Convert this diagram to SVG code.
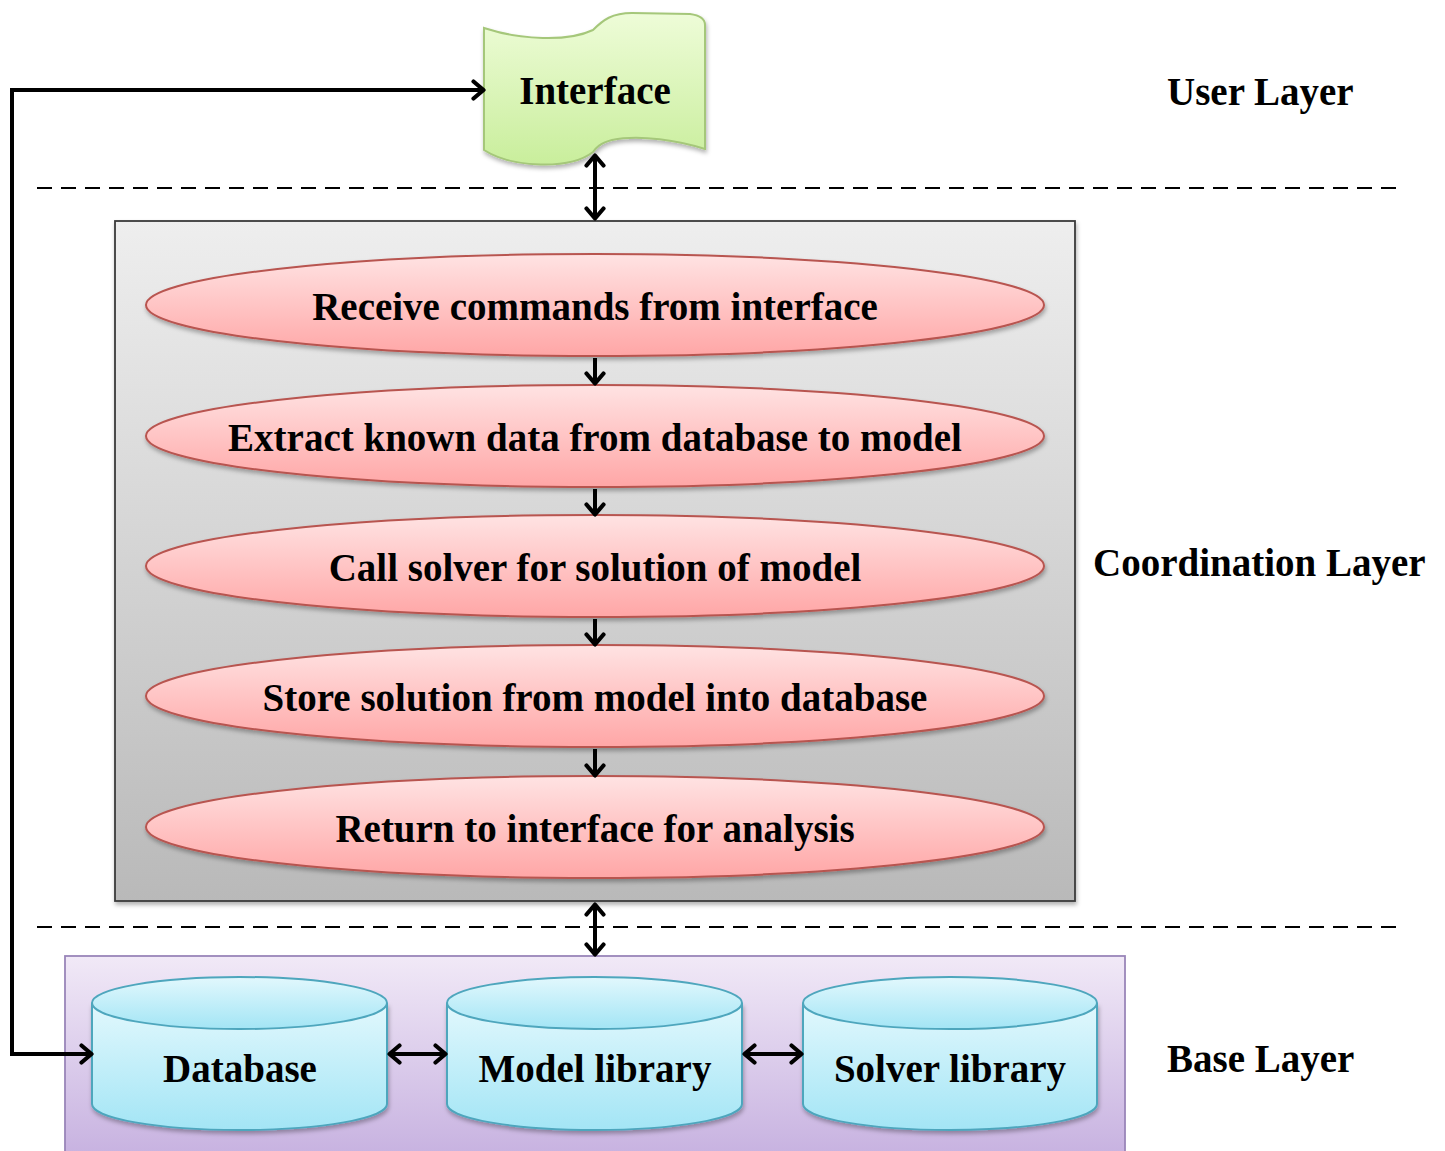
<svg xmlns="http://www.w3.org/2000/svg" width="1445" height="1151" viewBox="0 0 1445 1151">
<defs>
<linearGradient id="gGreen" x1="0" y1="0" x2="0" y2="1"><stop offset="0" stop-color="#eefcd8"/><stop offset="1" stop-color="#c9ee9c"/></linearGradient>
<linearGradient id="gGray" x1="0" y1="0" x2="0" y2="1"><stop offset="0" stop-color="#eeeeee"/><stop offset="1" stop-color="#b9b9b9"/></linearGradient>
<linearGradient id="gRed" x1="0" y1="0" x2="0" y2="1"><stop offset="0" stop-color="#ffe3e3"/><stop offset="1" stop-color="#ffa6a6"/></linearGradient>
<linearGradient id="gPurple" x1="0" y1="0" x2="0" y2="1"><stop offset="0" stop-color="#f1e9f7"/><stop offset="1" stop-color="#c5afdf"/></linearGradient>
<linearGradient id="gCyan" x1="0" y1="0" x2="0" y2="1"><stop offset="0" stop-color="#e2f8fd"/><stop offset="1" stop-color="#a3e5f5"/></linearGradient>
<filter id="sh" x="-5%" y="-5%" width="110%" height="120%"><feDropShadow dx="1" dy="3" stdDeviation="2" flood-color="#000" flood-opacity="0.3"/></filter>
<marker id="ah" viewBox="0 0 16 22" refX="13.5" refY="11" markerWidth="16" markerHeight="22" markerUnits="userSpaceOnUse" orient="auto-start-reverse">
<path d="M3,2.5 L13,11 L3,19.5" fill="none" stroke="#000" stroke-width="4.2" stroke-linecap="round" stroke-linejoin="round"/>
</marker>
</defs>
<style>
text{font-family:"Liberation Serif","Times New Roman",serif;font-weight:bold;font-size:39px;fill:#000;text-anchor:middle}
.lbl{text-anchor:start}
.dash{stroke:#000;stroke-width:2;stroke-dasharray:15 9;fill:none}
.con{stroke:#000;stroke-width:4;fill:none}
.ell{fill:url(#gRed);stroke:#b85450;stroke-width:2;filter:url(#sh)}
.cyl{fill:url(#gCyan);stroke:#4ea6bd;stroke-width:2}
</style>
<rect width="1445" height="1151" fill="#fff"/>
<line class="dash" x1="37" y1="188" x2="1400" y2="188"/>
<line class="dash" x1="37" y1="927" x2="1400" y2="927"/>
<text class="lbl" x="1167" y="105">User Layer</text>
<text class="lbl" x="1093" y="576">Coordination Layer</text>
<text class="lbl" x="1167" y="1072">Base Layer</text>
<g id="interface">
<path d="M484,28 C520,40 568,42 593,30 C603,20 612,13 632,13 L690,14 Q705,16 705,25 L705,149 C680,141 640,134 612,140 C600,143 596,148 593,152 C570,170 512,168 484,150 Z" fill="url(#gGreen)" stroke="#a5c77a" stroke-width="2" filter="url(#sh)"/>
<text x="595" y="104">Interface</text>
</g>
<g id="coordination">
<rect x="115" y="221" width="960" height="680" fill="url(#gGray)" stroke="#3a3a3a" stroke-width="1.8" filter="url(#sh)"/>
</g>
<g id="step1"><ellipse class="ell" cx="595" cy="305" rx="449" ry="51"/><text x="595" y="320">Receive commands from interface</text></g>
<g id="step2"><ellipse class="ell" cx="595" cy="436" rx="449" ry="51"/><text x="595" y="451">Extract known data from database to model</text></g>
<g id="step3"><ellipse class="ell" cx="595" cy="566" rx="449" ry="51"/><text x="595" y="581">Call solver for solution of model</text></g>
<g id="step4"><ellipse class="ell" cx="595" cy="696" rx="449" ry="51"/><text x="595" y="711">Store solution from model into database</text></g>
<g id="step5"><ellipse class="ell" cx="595" cy="827" rx="449" ry="51"/><text x="595" y="842">Return to interface for analysis</text></g>
<g id="base">
<rect x="65" y="956" width="1060" height="210" fill="url(#gPurple)" stroke="#9985b9" stroke-width="1.8"/>
</g>
<g id="database">
<path class="cyl" d="M92,1003 L92,1104 A147.5,26 0 0 0 387,1104 L387,1003" filter="url(#sh)"/>
<ellipse class="cyl" cx="239.5" cy="1003" rx="147.5" ry="26"/>
<text x="240" y="1082">Database</text>
</g>
<g id="model">
<path class="cyl" d="M447,1003 L447,1104 A147.5,26 0 0 0 742,1104 L742,1003" filter="url(#sh)"/>
<ellipse class="cyl" cx="594.5" cy="1003" rx="147.5" ry="26"/>
<text x="595" y="1082">Model library</text>
</g>
<g id="solver">
<path class="cyl" d="M803,1003 L803,1104 A147,26 0 0 0 1097,1104 L1097,1003" filter="url(#sh)"/>
<ellipse class="cyl" cx="950" cy="1003" rx="147" ry="26"/>
<text x="950" y="1082">Solver library</text>
</g>
<g id="connectors">
<line class="con" x1="595" y1="155" x2="595" y2="219" marker-start="url(#ah)" marker-end="url(#ah)"/>
<line class="con" x1="595" y1="358" x2="595" y2="384" marker-end="url(#ah)"/>
<line class="con" x1="595" y1="489" x2="595" y2="515" marker-end="url(#ah)"/>
<line class="con" x1="595" y1="619" x2="595" y2="645" marker-end="url(#ah)"/>
<line class="con" x1="595" y1="749" x2="595" y2="776" marker-end="url(#ah)"/>
<line class="con" x1="595" y1="904" x2="595" y2="955" marker-start="url(#ah)" marker-end="url(#ah)"/>
<line class="con" x1="389" y1="1054" x2="446" y2="1054" marker-start="url(#ah)" marker-end="url(#ah)"/>
<line class="con" x1="744" y1="1054" x2="802" y2="1054" marker-start="url(#ah)" marker-end="url(#ah)"/>
<path class="con" d="M92,1054 L12,1054 L12,90 L484,90" marker-start="url(#ah)" marker-end="url(#ah)"/>
</g>
</svg>
